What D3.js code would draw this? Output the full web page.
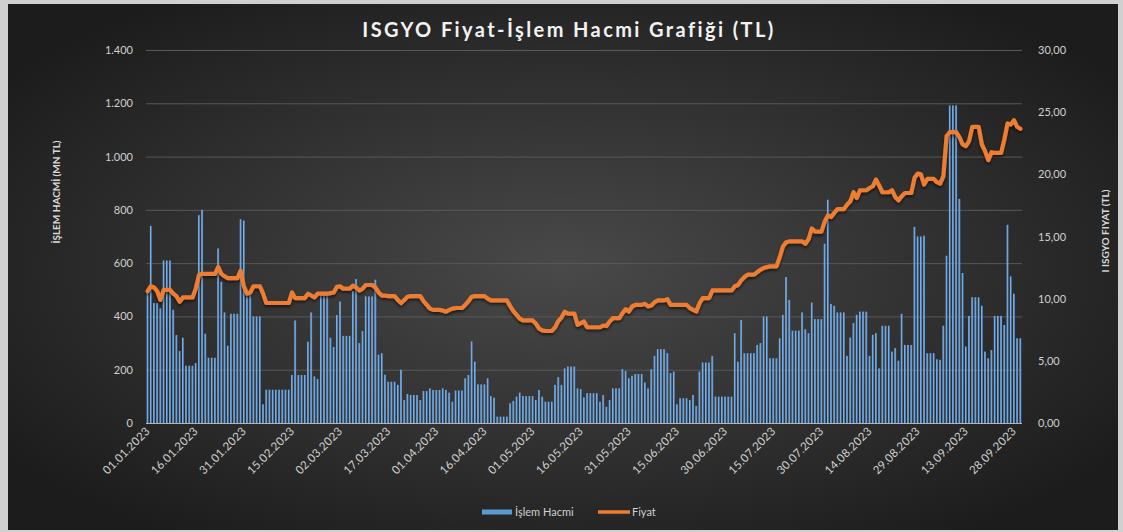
<!DOCTYPE html>
<html>
<head>
<meta charset="utf-8">
<script src="https://cdn.jsdelivr.net/npm/d3@7"></script>
<style>
  body { margin: 0; background: #d0d0d0; }
  svg text { font-family: Lato, "Open Sans", sans-serif; }
</style>
</head>
<body>
<script>
// günlük veriler, 01.01.2023 - 30.09.2023 (hafta sonları cuma değeri ile dolu)
var firstDay = "01.01.2023", lastDay = "30.09.2023";

// İşlem hacmi (MN TL), her satır bir hafta (pazar..cumartesi)
var hacim = [
  500,740,450,450,430,610,610,
  610,425,330,270,320,215,215,
  215,225,780,800,335,245,245,
  245,655,530,415,290,410,410,
  410,765,760,475,480,400,400,
  400,70,125,125,125,125,125,
  125,125,125,180,385,180,180,
  180,305,415,175,165,490,490,
  490,320,285,405,456,327,327,
  327,495,540,300,345,475,475,
  475,538,256,262,181,155,155,
  155,143,200,86,109,105,105,
  105,86,120,120,130,124,124,
  124,130,124,114,80,122,122,
  122,168,180,306,230,145,145,
  145,168,101,95,24,24,24,
  24,74,83,99,114,101,101,
  101,101,86,124,99,80,80,
  80,143,172,143,205,212,212,
  212,130,127,96,112,112,112,
  112,80,105,61,86,130,130,
  130,202,195,168,177,184,184,
  184,152,130,202,252,277,277,
  277,262,187,193,70,93,93,
  93,86,105,64,193,227,227,
  227,252,99,99,99,99,99,
  99,337,230,387,262,262,262,
  262,293,300,400,400,243,243,
  243,318,406,548,462,347,347,
  347,415,352,337,452,390,390,
  390,673,838,447,440,415,415,
  415,252,321,375,406,418,418,
  418,252,331,337,205,365,365,
  365,268,281,234,410,293,293,
  293,736,700,700,703,262,262,
  262,239,237,365,628,1192,1192,
  1192,841,563,287,402,472,472,
  472,440,268,243,274,402,402,
  402,368,744,550,485,318,318
];

// Fiyat (TL)
var fiyat = [
  10.6,11.0,10.9,10.6,9.9,10.7,10.7,
  10.7,10.4,10.2,9.75,10.1,10.1,10.1,
  10.1,10.8,11.9,12.0,12.0,12.0,12.0,
  12.0,12.55,12.0,11.8,11.65,11.65,11.65,
  11.65,12.25,11.0,10.4,10.5,11.0,11.0,
  11.0,10.4,9.65,9.65,9.65,9.65,9.65,
  9.65,9.65,9.65,10.5,10.05,10.05,10.05,
  10.05,10.4,10.25,10.1,10.4,10.4,10.4,
  10.4,10.45,10.5,10.95,11.0,10.8,10.8,
  10.8,11.05,10.9,10.65,10.8,11.1,11.1,
  11.1,10.9,10.5,10.25,10.25,10.2,10.2,
  10.2,9.9,9.64,9.9,10.15,10.2,10.2,
  10.2,10.2,9.8,9.5,9.2,9.1,9.1,
  9.1,9.05,8.95,9.1,9.2,9.25,9.25,
  9.25,9.5,9.8,10.15,10.2,10.2,10.2,
  10.2,10.0,9.86,9.86,9.86,9.86,9.86,
  9.86,9.4,9.0,8.7,8.4,8.25,8.25,
  8.25,8.25,8.0,7.6,7.45,7.4,7.4,
  7.4,7.7,8.2,8.5,8.95,8.8,8.8,
  8.8,7.9,8.03,8.17,7.7,7.7,7.7,
  7.7,7.7,7.84,7.8,8.17,8.43,8.43,
  8.43,8.84,9.16,8.97,9.37,9.5,9.5,
  9.5,9.59,9.37,9.45,9.72,9.86,9.86,
  9.86,9.96,9.5,9.5,9.5,9.5,9.5,
  9.5,9.24,9.1,8.97,9.64,10.05,10.05,
  10.05,10.66,10.66,10.66,10.66,10.66,10.66,
  10.66,11.0,11.1,11.47,11.74,11.93,11.93,
  11.93,12.14,12.33,12.46,12.54,12.6,12.6,
  12.6,13.35,14.2,14.53,14.6,14.6,14.6,
  14.6,14.6,14.42,14.8,15.65,15.4,15.4,
  15.4,16.2,16.7,16.57,16.9,17.2,17.2,
  17.2,17.57,17.83,18.56,18.1,18.72,18.72,
  18.72,18.9,19.04,19.58,19.1,18.56,18.56,
  18.56,18.72,18.18,17.9,18.24,18.5,18.5,
  18.5,19.72,20.06,20.0,19.18,19.63,19.63,
  19.63,19.37,19.26,19.85,23.07,23.4,23.4,
  23.4,23.0,22.4,22.27,22.67,23.82,23.82,
  23.82,22.4,21.86,21.14,21.78,21.73,21.73,
  21.73,22.8,24.1,24.0,24.36,23.82,23.66
];

var tickLabels = ["01.01.2023","16.01.2023","31.01.2023","15.02.2023","02.03.2023",
  "17.03.2023","01.04.2023","16.04.2023","01.05.2023","16.05.2023","31.05.2023",
  "15.06.2023","30.06.2023","15.07.2023","30.07.2023","14.08.2023","29.08.2023",
  "13.09.2023","28.09.2023"];
var hacimTicks = [0, 200, 400, 600, 800, 1000, 1200, 1400];
var fiyatTicks = [0, 5, 10, 15, 20, 25, 30];

var width = 1123, height = 532;
var plotL = 146, plotR = 1022, plotT = 50, plotB = 423;

var parse = d3.timeParse("%d.%m.%Y");
var days = d3.timeDay.range(parse(firstDay), d3.timeDay.offset(parse(lastDay), 1));
var data = days.map(function(d, i) {
  return { date: d, hacim: hacim[i], fiyat: fiyat[i] };
});

var trLocale = d3.formatLocale({ decimal: ",", thousands: ".", grouping: [3], currency: ["", " TL"] });

var svg = d3.select("body").append("svg")
  .attr("width", width)
  .attr("height", height)
  .style("display", "block");

var defs = svg.append("defs");
var grad = defs.append("radialGradient").attr("id", "bg")
  .attr("cx", "50%").attr("cy", "50%").attr("r", "62%");
grad.append("stop").attr("offset", "0%").attr("stop-color", "#494949");
grad.append("stop").attr("offset", "100%").attr("stop-color", "#1c1c1c");

var barGrad = defs.append("linearGradient").attr("id", "bar")
  .attr("x1", "0").attr("x2", "1").attr("y1", "0").attr("y2", "0");
barGrad.append("stop").attr("offset", "0%").attr("stop-color", "#8fbeee");
barGrad.append("stop").attr("offset", "100%").attr("stop-color", "#4a8bd0");

var shadow = defs.append("filter").attr("id", "shadow")
  .attr("x", "-5%").attr("y", "-5%").attr("width", "110%").attr("height", "120%");
shadow.append("feDropShadow").attr("dx", 0).attr("dy", 2).attr("stdDeviation", 1.5)
  .attr("flood-color", "#000").attr("flood-opacity", 0.6);

// çerçeve + arka plan
svg.append("rect").attr("width", width).attr("height", height).attr("fill", "#d0d0d0");
svg.append("rect").attr("x", 8).attr("y", 4).attr("width", 1110).attr("height", 526)
  .attr("fill", "url(#bg)");

var x = d3.scaleBand().domain(days).range([plotL, plotR]).paddingInner(0.45).paddingOuter(0.225);
var yHacim = d3.scaleLinear().domain([0, 1400]).range([plotB, plotT]);
var yFiyat = d3.scaleLinear().domain([0, 30]).range([plotB, plotT]);

// ızgara
svg.append("g").selectAll("line")
  .data(hacimTicks.slice(1))
  .enter().append("line")
  .attr("x1", plotL).attr("x2", plotR)
  .attr("y1", function(d) { return yHacim(d) + 0.5; })
  .attr("y2", function(d) { return yHacim(d) + 0.5; })
  .attr("stroke", "#595959").attr("stroke-width", 1);

// sütunlar
svg.append("g").selectAll("rect")
  .data(data)
  .enter().append("rect")
  .attr("x", function(d) { return x(d.date); })
  .attr("width", x.bandwidth())
  .attr("y", function(d) { return yHacim(d.hacim); })
  .attr("height", function(d) { return plotB - yHacim(d.hacim); })
  .attr("fill", "url(#bar)");

// taban çizgisi
svg.append("line").attr("x1", plotL).attr("x2", plotR)
  .attr("y1", plotB + 0.5).attr("y2", plotB + 0.5)
  .attr("stroke", "#b5b5b5").attr("stroke-width", 1);

// fiyat çizgisi
var line = d3.line()
  .x(function(d) { return x(d.date) + x.bandwidth() / 2; })
  .y(function(d) { return yFiyat(d.fiyat); });

svg.append("path")
  .datum(data)
  .attr("d", line)
  .attr("fill", "none")
  .attr("stroke", "#ed7d31")
  .attr("stroke-width", 4.2)
  .attr("stroke-linejoin", "round")
  .attr("stroke-linecap", "round")
  .attr("filter", "url(#shadow)");

// eksenler
var axL = svg.append("g").attr("transform", "translate(" + (plotL - 13) + ",0)")
  .call(d3.axisLeft(yHacim).tickValues(hacimTicks).tickSize(0).tickFormat(trLocale.format(",")));
var axR = svg.append("g").attr("transform", "translate(" + (plotR + 16) + ",0)")
  .call(d3.axisRight(yFiyat).tickValues(fiyatTicks).tickSize(0).tickFormat(trLocale.format(",.2f")));
[axL, axR].forEach(function(ax) {
  ax.select(".domain").remove();
  ax.selectAll("text").attr("fill", "#d0d0d0").attr("x", 0)
    .style("font-size", "11px").style("font-family", "Lato, sans-serif");
});

// tarih etiketleri
svg.append("g").selectAll("text")
  .data(tickLabels)
  .enter().append("text")
  .attr("text-anchor", "end")
  .attr("transform", function(d) {
    var cx = x(parse(d)) + x.bandwidth() / 2 + 3;
    return "translate(" + cx + "," + (plotB + 9) + ") rotate(-45)";
  })
  .attr("fill", "#d0d0d0")
  .style("font-size", "11.5px")
  .style("letter-spacing", "0.2px")
  .text(function(d) { return d; });

// başlıklar
svg.append("text").attr("x", 569).attr("y", 37).attr("text-anchor", "middle")
  .attr("fill", "#f2f2f2").style("font-size", "20px").style("font-weight", "bold")
  .style("letter-spacing", "2.4px")
  .text("ISGYO Fiyat-İşlem Hacmi Grafiği (TL)");

svg.append("text").attr("transform", "translate(60,192) rotate(-90)")
  .attr("text-anchor", "middle").attr("fill", "#d9d9d9")
  .style("font-size", "10px").style("font-weight", "bold")
  .text("İŞLEM HACMİ (MN TL)");

svg.append("text").attr("transform", "translate(1109,231) rotate(-90)")
  .attr("text-anchor", "middle").attr("fill", "#d9d9d9")
  .style("font-size", "10px").style("font-weight", "bold")
  .text("I ISGYO FIYAT (TL)");

// lejant
var leg = svg.append("g");
leg.append("rect").attr("x", 482).attr("y", 509.5).attr("width", 30).attr("height", 5)
  .attr("fill", "#5b9bd5");
leg.append("text").attr("x", 515).attr("y", 516).attr("fill", "#d0d0d0")
  .style("font-size", "11px").text("İşlem Hacmi");
leg.append("line").attr("x1", 598).attr("x2", 630).attr("y1", 512).attr("y2", 512)
  .attr("stroke", "#ed7d31").attr("stroke-width", 3.5);
leg.append("text").attr("x", 632).attr("y", 516).attr("fill", "#d0d0d0")
  .style("font-size", "11px").text("Fiyat");
</script>
</body>
</html>
